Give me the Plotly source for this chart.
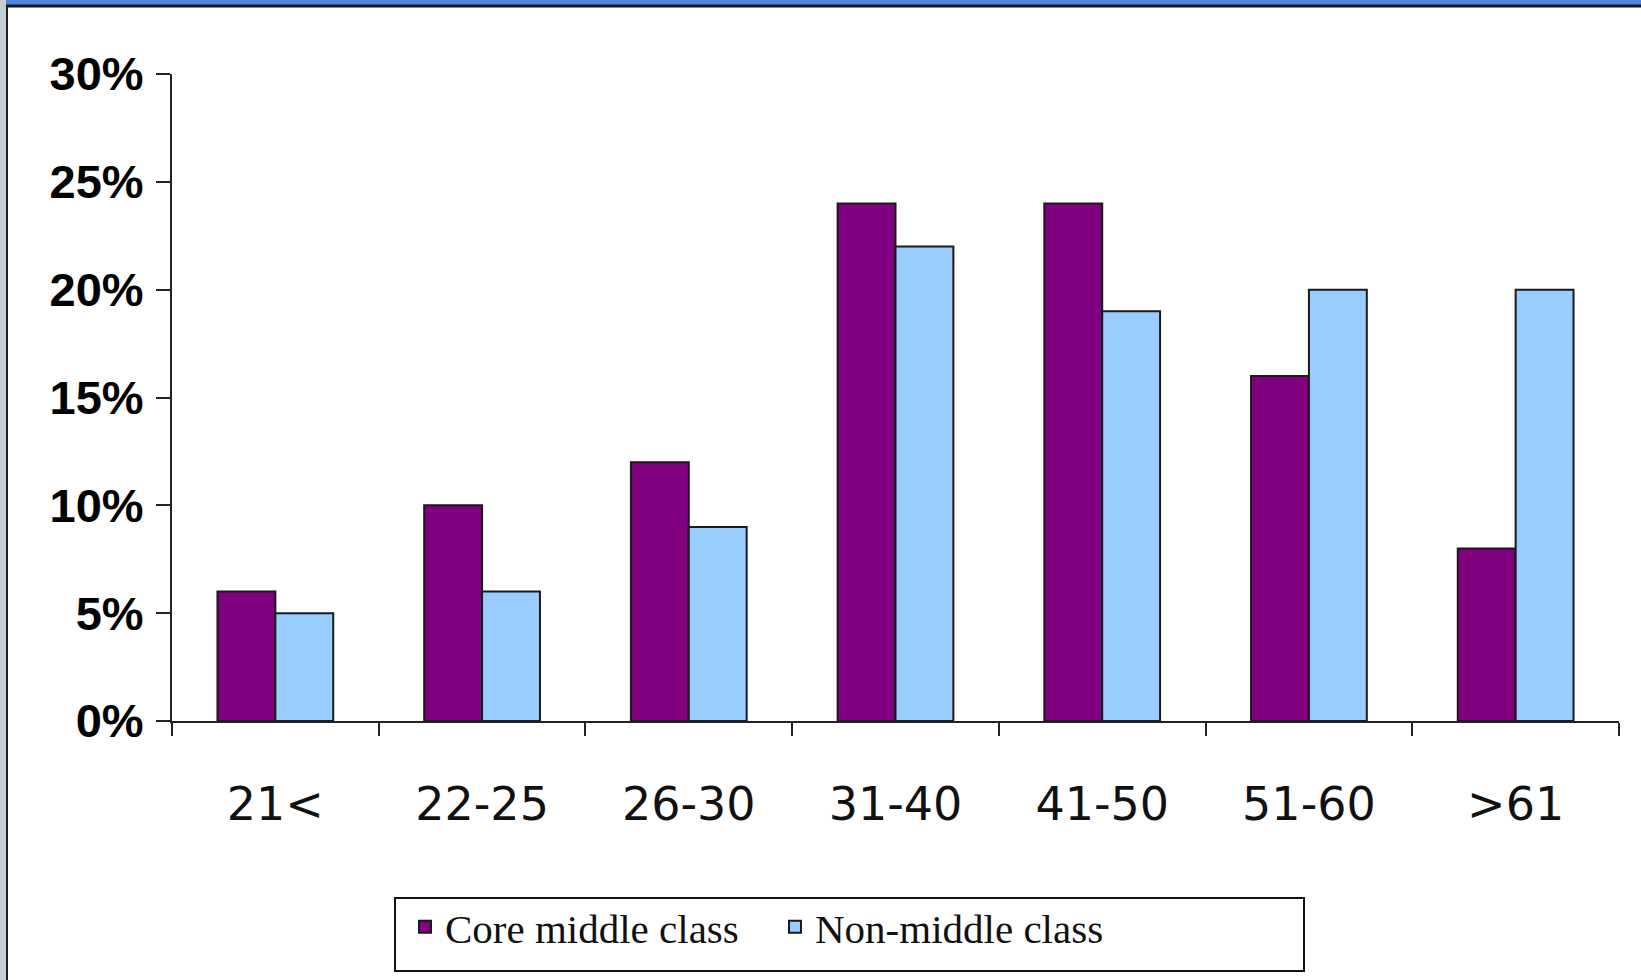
import plotly.graph_objects as go

categories = ["21<", "22-25", "26-30", "31-40", "41-50", "51-60", ">61"]
core_middle = [0.06, 0.10, 0.12, 0.24, 0.24, 0.16, 0.08]
non_middle = [0.05, 0.06, 0.09, 0.22, 0.19, 0.20, 0.20]
series_names = ["Core middle class", "Non-middle class"]
y_ticks = [0, 0.05, 0.10, 0.15, 0.20, 0.25, 0.30]

W, H = 1641, 980
L, R, T, B = 172, 22, 74, 259
PW, PH = W - L - R, H - T - B


def px(x):
    return (x - L) / PW


def py(y):
    return (H - B - y) / PH


fig = go.Figure()
fig.add_trace(go.Bar(
    x=categories, y=core_middle, name=series_names[0],
    marker=dict(color="#800080", line=dict(color="#1a1a1a", width=2)),
))
fig.add_trace(go.Bar(
    x=categories, y=non_middle, name=series_names[1],
    marker=dict(color="#99CCFF", line=dict(color="#1a1a1a", width=2)),
))

shapes = [
    # window chrome
    dict(type="rect", xref="paper", yref="paper", x0=px(0), x1=px(W), y0=py(0), y1=py(5),
         fillcolor="#4f86d6", line=dict(width=0), layer="above"),
    dict(type="line", xref="paper", yref="paper", x0=px(0), x1=px(W), y0=py(6), y1=py(6),
         line=dict(color="#101820", width=3), layer="above"),
    dict(type="rect", xref="paper", yref="paper", x0=px(0), x1=px(6), y0=py(0), y1=py(H),
         fillcolor="#c8ccd4", line=dict(width=0), layer="above"),
    dict(type="line", xref="paper", yref="paper", x0=px(7), x1=px(7), y0=py(5), y1=py(H),
         line=dict(color="#202020", width=2), layer="above"),
    # legend box
    dict(type="rect", xref="paper", yref="paper", x0=px(395), x1=px(1304), y0=py(898), y1=py(971),
         line=dict(color="#111111", width=2), fillcolor="rgba(0,0,0,0)"),
]

fig.update_layout(
    width=W, height=H,
    margin=dict(l=L, r=R, t=T, b=B, autoexpand=False),
    paper_bgcolor="white", plot_bgcolor="white",
    barmode="group", bargap=0.44, bargroupgap=0,
    showlegend=True,
    legend=dict(
        orientation="h", x=px(405), y=py(927), xanchor="left", yanchor="middle",
        font=dict(family="Liberation Serif", size=41, color="#111111"),
        bgcolor="rgba(0,0,0,0)", borderwidth=0,
        entrywidth=325, entrywidthmode="pixels", itemwidth=30,
    ),
    xaxis=dict(
        type="category", range=[-0.5, 6.5], tickson="boundaries",
        showline=True, linecolor="#222222", linewidth=2,
        ticks="outside", ticklen=13, tickwidth=2, tickcolor="#222222",
        tickfont=dict(family="DejaVu Sans", size=46, color="#111111"),
        ticklabelstandoff=42, showgrid=False, zeroline=False,
    ),
    yaxis=dict(
        range=[0, 0.30], tickvals=y_ticks, tickformat=".0%",
        showline=True, linecolor="#222222", linewidth=2,
        ticks="outside", ticklen=14, tickwidth=2, tickcolor="#222222",
        tickfont=dict(family="Liberation Sans", size=47, color="#000000", weight="bold"),
        ticklabelstandoff=3, showgrid=False, zeroline=False,
    ),
    shapes=shapes,
)

fig.write_html("out.html", config={"displayModeBar": False},
               post_script="document.body.style.margin='0';")
